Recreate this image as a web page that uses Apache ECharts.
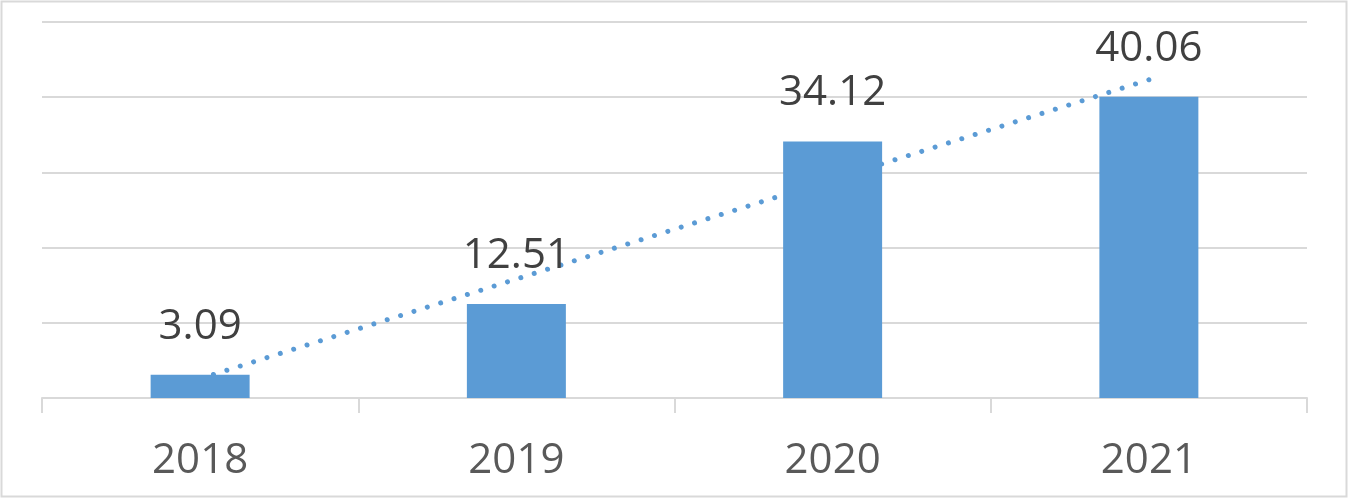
<!DOCTYPE html>
<html>
<head>
<meta charset="utf-8">
<script src="https://cdn.jsdelivr.net/npm/echarts@6/dist/echarts.min.js"></script>
<style>
html,body{margin:0;padding:0;background:#fff;}
#chart{width:1349px;height:500px;}
</style>
</head>
<body>
<div id="chart"></div>
<script>
// Data
var categories = ['2018', '2019', '2020', '2021'];
var values = [3.09, 12.51, 34.12, 40.06];
// Linear trendline values at each category
var trend = [2.57, 15.82, 29.07, 42.32];
var yTicks = [0, 10, 20, 30, 40, 50];

var chart = echarts.init(document.getElementById('chart'), null, {renderer: 'canvas'});
chart.setOption({
  animation: false,
  backgroundColor: '#ffffff',
  graphic: [{
    type: 'rect',
    shape: {x: 1.5, y: 1.5, width: 1345, height: 495},
    style: {fill: 'none', stroke: '#d9d9d9', lineWidth: 2},
    silent: true
  }],
  grid: {left: 42, right: 42, top: 22, bottom: 102, containLabel: false},
  xAxis: {
    type: 'category',
    data: categories,
    boundaryGap: true,
    axisLine: {show: true, lineStyle: {color: '#d9d9d9', width: 2}},
    axisTick: {show: true, length: 15, lineStyle: {color: '#d9d9d9', width: 2}},
    axisLabel: {
      color: '#595959',
      fontFamily: 'Open Sans',
      fontSize: 42,
      margin: 42
    }
  },
  yAxis: {
    type: 'value',
    min: yTicks[0],
    max: yTicks[yTicks.length - 1],
    interval: yTicks[1] - yTicks[0],
    axisLine: {show: false},
    axisTick: {show: false},
    axisLabel: {show: false},
    splitLine: {show: true, lineStyle: {color: '#d9d9d9', width: 2}}
  },
  series: [
    {
      type: 'line',
      data: trend,
      z: 1,
      symbol: 'none',
      silent: true,
      lineStyle: {color: '#5b9bd5', width: 5, type: [0.01, 14], cap: 'round'}
    },
    {
      type: 'bar',
      data: values,
      z: 3,
      barWidth: '31.3%',
      itemStyle: {color: '#5b9bd5'},
      label: {
        show: true,
        position: 'top',
        distance: 27,
        color: '#404040',
        fontFamily: 'Open Sans',
        fontSize: 42,
        formatter: function (p) { return p.value.toFixed(2); }
      }
    }
  ]
});
</script>
</body>
</html>
